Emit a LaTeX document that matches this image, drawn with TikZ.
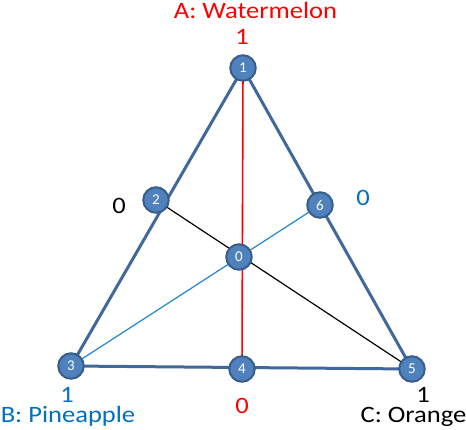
\documentclass[tikz,border=0pt]{standalone}
\usepackage{fontspec}
\usepackage{graphicx}
\setmainfont{Carlito}
\definecolor{edgeblue}{HTML}{41689C}
\definecolor{nodefill}{HTML}{4F81BD}
\definecolor{nodedraw}{HTML}{385D8A}
\definecolor{lineblue}{HTML}{1F86D0}
\definecolor{labred}{HTML}{FF0000}
\definecolor{labblue}{HTML}{0070C0}
\newcommand{\widelbl}[1]{\scalebox{1.13}[1]{#1}}
\begin{document}
\begin{tikzpicture}[x=1pt,y=-1pt,
  vtx/.style={circle,fill=nodefill,draw=nodedraw,line width=2pt,minimum size=25.5pt,inner sep=0pt,text=white,font=\fontsize{15}{15}\selectfont},
  side/.style={edgeblue,line width=3pt},
  inner/.style={line width=1.2pt},
  lab/.style={font=\fontsize{23.5}{23.5}\selectfont,inner sep=0pt,anchor=base}]
\useasboundingbox (0,0) rectangle (466,429);
\coordinate (c1) at (243,68);
\coordinate (c2) at (156,200);
\coordinate (c3) at (71,366);
\coordinate (c4) at (242,369);
\coordinate (c5) at (412,369);
\coordinate (c6) at (320,205);
\coordinate (c0) at (239,257);
\draw[side,line join=round] (c1) -- (c3) -- (c5) -- cycle;
\draw[inner,labred,line width=1.6pt] (c1) -- (c4);
\draw[inner,black] (c2) -- (c5);
\draw[inner,lineblue] (c3) -- (c6);
\node[vtx] (n1) at (c1) {1};
\node[vtx] (n2) at (c2) {2};
\node[vtx] (n3) at (c3) {3};
\node[vtx] (n4) at (c4) {4};
\node[vtx] (n5) at (c5) {5};
\node[vtx] (n6) at (c6) {6};
\node[vtx] (n0) at (c0) {0};
\node[lab,text=labred] (tA) at (255.5,18) {\widelbl{A: Watermelon}};
\node[lab,text=labred] (vA1) at (242,44) {\widelbl{1}};
\node[lab,text=labred] (vA0) at (242,413) {\widelbl{0}};
\node[lab,text=labblue] (tB) at (68,422) {\widelbl{B: Pineapple}};
\node[lab,text=labblue] (vB1) at (67,402) {\widelbl{1}};
\node[lab,text=labblue] (vB0) at (363,205) {\widelbl{0}};
\node[lab,text=black] (tC) at (413.5,422) {\widelbl{C: Orange}};
\node[lab,text=black] (vC1) at (423,402) {\widelbl{1}};
\node[lab,text=black] (vC0) at (119,213) {\widelbl{0}};
\end{tikzpicture}
\end{document}
